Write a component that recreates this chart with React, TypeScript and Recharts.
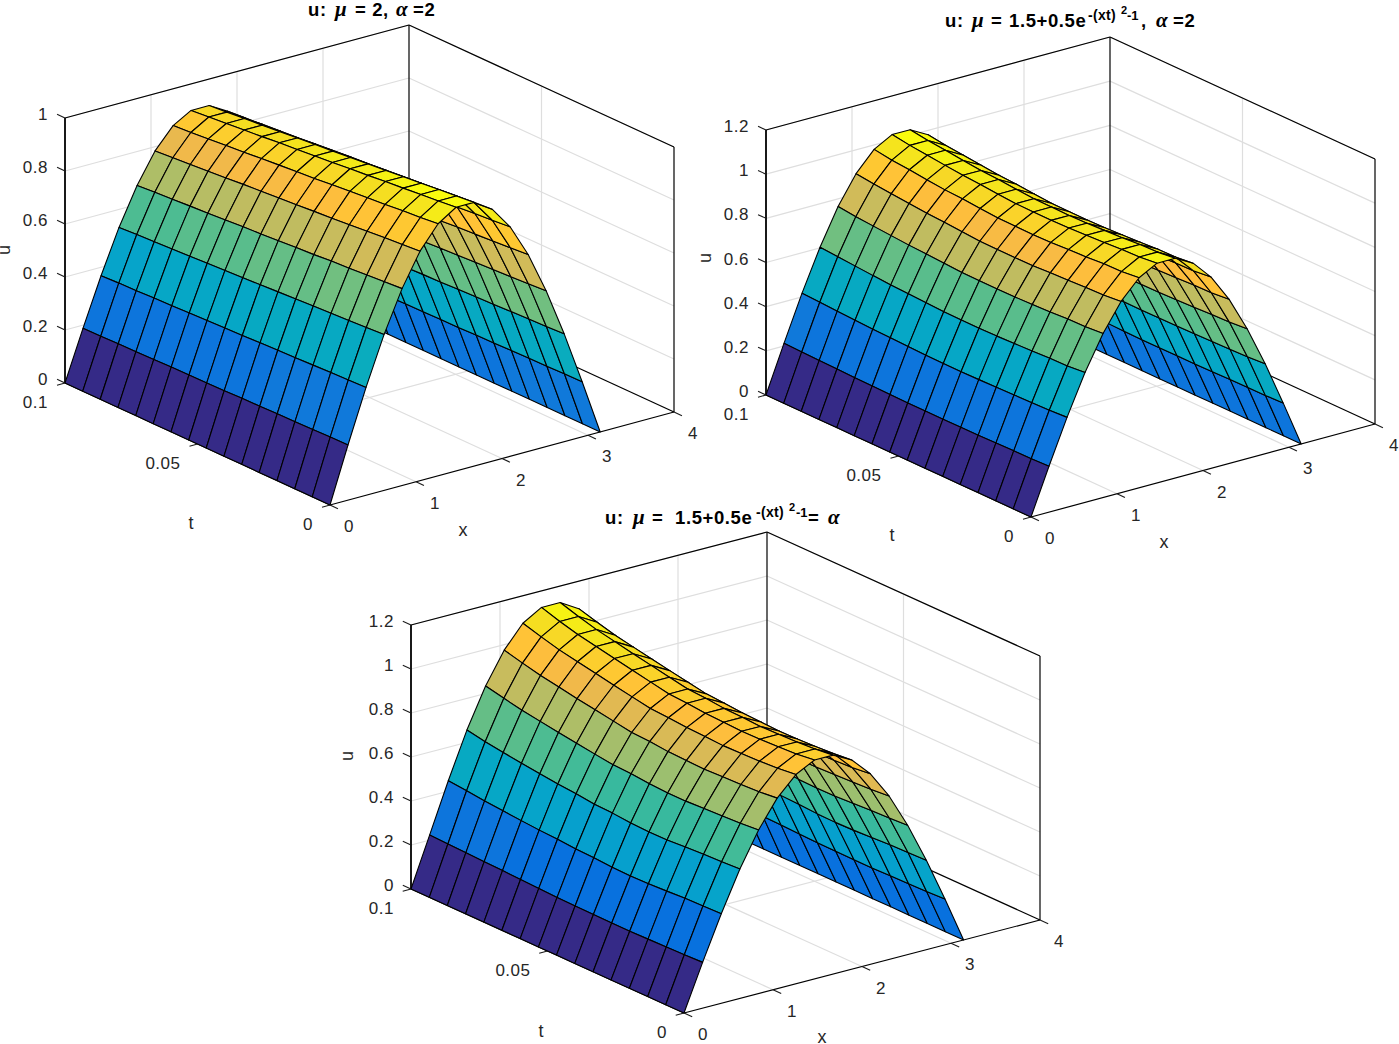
import React from "react";
import { ScatterChart, Scatter, XAxis, YAxis } from "recharts";

const WIDTH = 1399;
const HEIGHT = 1044;

const xValues = [0, 0.209, 0.419, 0.628, 0.838, 1.047, 1.257, 1.466, 1.676, 1.885, 2.094, 2.304, 2.513, 2.723, 2.932, 3.142];
const tValues = [0, 0.0067, 0.0133, 0.02, 0.0267, 0.0333, 0.04, 0.0467, 0.0533, 0.06, 0.0667, 0.0733, 0.08, 0.0867, 0.0933, 0.1];
const xTicks = [0, 1, 2, 3, 4];
const tTicks = [0, 0.05, 0.1];
const zTicksA = [0, 0.2, 0.4, 0.6, 0.8, 1];
const zTicksB = [0, 0.2, 0.4, 0.6, 0.8, 1, 1.2];

// rows run over t, columns over x
const uConstant = [
  [0, 0.208, 0.407, 0.588, 0.743, 0.866, 0.951, 0.995, 0.995, 0.951, 0.866, 0.743, 0.588, 0.407, 0.208, 0],
  [0, 0.207, 0.404, 0.584, 0.738, 0.86, 0.944, 0.988, 0.988, 0.944, 0.86, 0.738, 0.584, 0.404, 0.207, 0],
  [0, 0.205, 0.402, 0.58, 0.733, 0.855, 0.939, 0.982, 0.982, 0.939, 0.855, 0.733, 0.58, 0.402, 0.205, 0],
  [0, 0.204, 0.399, 0.576, 0.728, 0.849, 0.932, 0.975, 0.975, 0.932, 0.849, 0.728, 0.576, 0.399, 0.204, 0],
  [0, 0.203, 0.396, 0.573, 0.724, 0.843, 0.926, 0.969, 0.969, 0.926, 0.843, 0.724, 0.573, 0.396, 0.203, 0],
  [0, 0.201, 0.394, 0.569, 0.718, 0.837, 0.92, 0.962, 0.962, 0.92, 0.837, 0.718, 0.569, 0.394, 0.201, 0],
  [0, 0.2, 0.391, 0.565, 0.714, 0.832, 0.914, 0.956, 0.956, 0.914, 0.832, 0.714, 0.565, 0.391, 0.2, 0],
  [0, 0.198, 0.388, 0.561, 0.709, 0.826, 0.907, 0.949, 0.949, 0.907, 0.826, 0.709, 0.561, 0.388, 0.198, 0],
  [0, 0.197, 0.386, 0.557, 0.704, 0.821, 0.902, 0.943, 0.943, 0.902, 0.821, 0.704, 0.557, 0.386, 0.197, 0],
  [0, 0.196, 0.383, 0.554, 0.7, 0.816, 0.896, 0.937, 0.937, 0.896, 0.816, 0.7, 0.554, 0.383, 0.196, 0],
  [0, 0.195, 0.381, 0.55, 0.695, 0.811, 0.89, 0.931, 0.931, 0.89, 0.811, 0.695, 0.55, 0.381, 0.195, 0],
  [0, 0.193, 0.378, 0.546, 0.69, 0.805, 0.883, 0.924, 0.924, 0.883, 0.805, 0.69, 0.546, 0.378, 0.193, 0],
  [0, 0.192, 0.376, 0.543, 0.686, 0.799, 0.878, 0.918, 0.918, 0.878, 0.799, 0.686, 0.543, 0.376, 0.192, 0],
  [0, 0.191, 0.373, 0.539, 0.681, 0.794, 0.872, 0.912, 0.912, 0.872, 0.794, 0.681, 0.539, 0.373, 0.191, 0],
  [0, 0.189, 0.371, 0.536, 0.677, 0.789, 0.866, 0.906, 0.906, 0.866, 0.789, 0.677, 0.536, 0.371, 0.189, 0],
  [0, 0.188, 0.368, 0.532, 0.672, 0.784, 0.861, 0.9, 0.9, 0.861, 0.784, 0.672, 0.532, 0.368, 0.188, 0],
];

const uVariable = [
  [0, 0.208, 0.407, 0.588, 0.743, 0.866, 0.951, 0.995, 0.995, 0.951, 0.866, 0.743, 0.588, 0.407, 0.208, 0],
  [0, 0.205, 0.402, 0.581, 0.736, 0.858, 0.942, 0.986, 0.986, 0.942, 0.858, 0.736, 0.581, 0.402, 0.205, 0],
  [0, 0.204, 0.4, 0.579, 0.735, 0.856, 0.941, 0.984, 0.984, 0.941, 0.856, 0.735, 0.579, 0.4, 0.204, 0],
  [0, 0.203, 0.398, 0.575, 0.73, 0.851, 0.935, 0.978, 0.978, 0.935, 0.851, 0.73, 0.575, 0.398, 0.203, 0],
  [0, 0.201, 0.396, 0.572, 0.727, 0.848, 0.931, 0.974, 0.974, 0.931, 0.848, 0.727, 0.572, 0.396, 0.201, 0],
  [0, 0.2, 0.394, 0.569, 0.724, 0.844, 0.927, 0.97, 0.97, 0.927, 0.844, 0.724, 0.569, 0.394, 0.2, 0],
  [0, 0.2, 0.393, 0.568, 0.723, 0.843, 0.925, 0.968, 0.968, 0.925, 0.843, 0.723, 0.568, 0.393, 0.2, 0],
  [0, 0.2, 0.393, 0.568, 0.724, 0.843, 0.926, 0.969, 0.969, 0.926, 0.843, 0.724, 0.568, 0.393, 0.2, 0],
  [0, 0.2, 0.394, 0.569, 0.724, 0.844, 0.927, 0.97, 0.97, 0.927, 0.844, 0.724, 0.569, 0.394, 0.2, 0],
  [0, 0.201, 0.396, 0.573, 0.729, 0.85, 0.933, 0.976, 0.976, 0.933, 0.85, 0.729, 0.573, 0.396, 0.201, 0],
  [0, 0.203, 0.399, 0.576, 0.734, 0.856, 0.94, 0.983, 0.983, 0.94, 0.856, 0.734, 0.576, 0.399, 0.203, 0],
  [0, 0.204, 0.401, 0.58, 0.738, 0.86, 0.944, 0.988, 0.988, 0.944, 0.86, 0.738, 0.58, 0.401, 0.204, 0],
  [0, 0.206, 0.405, 0.585, 0.744, 0.867, 0.952, 0.996, 0.996, 0.952, 0.867, 0.744, 0.585, 0.405, 0.206, 0],
  [0, 0.208, 0.409, 0.591, 0.75, 0.875, 0.961, 1.005, 1.005, 0.961, 0.875, 0.75, 0.591, 0.409, 0.208, 0],
  [0, 0.21, 0.413, 0.597, 0.756, 0.882, 0.968, 1.013, 1.013, 0.968, 0.882, 0.756, 0.597, 0.413, 0.21, 0],
  [0, 0.212, 0.417, 0.603, 0.765, 0.892, 0.98, 1.025, 1.025, 0.98, 0.892, 0.765, 0.603, 0.417, 0.212, 0],
];

const uEqual = [
  [0, 0.208, 0.407, 0.588, 0.743, 0.866, 0.951, 0.995, 0.995, 0.951, 0.866, 0.743, 0.588, 0.407, 0.208, 0],
  [0, 0.205, 0.404, 0.583, 0.736, 0.857, 0.942, 0.985, 0.985, 0.942, 0.857, 0.736, 0.583, 0.404, 0.205, 0],
  [0, 0.203, 0.402, 0.58, 0.732, 0.853, 0.937, 0.98, 0.98, 0.937, 0.853, 0.732, 0.58, 0.402, 0.203, 0],
  [0, 0.201, 0.397, 0.575, 0.728, 0.85, 0.934, 0.977, 0.977, 0.934, 0.85, 0.728, 0.575, 0.397, 0.201, 0],
  [0, 0.199, 0.393, 0.57, 0.724, 0.847, 0.932, 0.975, 0.975, 0.932, 0.847, 0.724, 0.57, 0.393, 0.199, 0],
  [0, 0.199, 0.391, 0.569, 0.724, 0.849, 0.936, 0.979, 0.979, 0.936, 0.849, 0.724, 0.569, 0.391, 0.199, 0],
  [0, 0.2, 0.393, 0.572, 0.728, 0.852, 0.939, 0.982, 0.982, 0.939, 0.852, 0.728, 0.572, 0.393, 0.2, 0],
  [0, 0.201, 0.398, 0.579, 0.736, 0.86, 0.946, 0.99, 0.99, 0.946, 0.86, 0.736, 0.579, 0.398, 0.201, 0],
  [0, 0.203, 0.401, 0.582, 0.739, 0.864, 0.951, 0.995, 0.995, 0.951, 0.864, 0.739, 0.582, 0.401, 0.203, 0],
  [0, 0.206, 0.407, 0.592, 0.75, 0.878, 0.966, 1.011, 1.011, 0.966, 0.878, 0.75, 0.592, 0.407, 0.206, 0],
  [0, 0.209, 0.411, 0.599, 0.762, 0.892, 0.981, 1.027, 1.027, 0.981, 0.892, 0.762, 0.599, 0.411, 0.209, 0],
  [0, 0.212, 0.417, 0.608, 0.773, 0.905, 0.997, 1.043, 1.043, 0.997, 0.905, 0.773, 0.608, 0.417, 0.212, 0],
  [0, 0.215, 0.424, 0.618, 0.786, 0.92, 1.013, 1.06, 1.06, 1.013, 0.92, 0.786, 0.618, 0.424, 0.215, 0],
  [0, 0.218, 0.431, 0.629, 0.799, 0.935, 1.029, 1.077, 1.077, 1.029, 0.935, 0.799, 0.629, 0.431, 0.218, 0],
  [0, 0.22, 0.44, 0.641, 0.816, 0.954, 1.051, 1.099, 1.099, 1.051, 0.954, 0.816, 0.641, 0.44, 0.22, 0],
  [0, 0.223, 0.448, 0.656, 0.834, 0.975, 1.075, 1.125, 1.125, 1.075, 0.975, 0.834, 0.656, 0.448, 0.223, 0],
];

// parula, 64 steps
const parula = [
  [0.2081, 0.1663, 0.5292], [0.2116, 0.1898, 0.5777], [0.2123, 0.2138, 0.627], [0.2081, 0.2386, 0.6771],
  [0.1959, 0.2645, 0.7279], [0.1707, 0.2919, 0.7792], [0.1253, 0.3242, 0.8303], [0.0591, 0.3598, 0.8683],
  [0.0117, 0.3875, 0.882], [0.006, 0.4086, 0.8828], [0.0165, 0.4266, 0.8786], [0.0329, 0.443, 0.872],
  [0.0498, 0.4586, 0.8641], [0.0629, 0.4737, 0.8554], [0.0723, 0.4887, 0.8467], [0.0779, 0.504, 0.8384],
  [0.0793, 0.52, 0.8312], [0.0749, 0.5375, 0.8263], [0.0641, 0.557, 0.824], [0.0488, 0.5772, 0.8228],
  [0.0343, 0.5966, 0.8199], [0.0265, 0.6137, 0.8135], [0.0239, 0.6287, 0.8038], [0.0231, 0.6418, 0.7913],
  [0.0228, 0.6535, 0.7768], [0.0267, 0.6642, 0.7607], [0.0384, 0.6743, 0.7436], [0.059, 0.6838, 0.7254],
  [0.0843, 0.6928, 0.7062], [0.1133, 0.7015, 0.6859], [0.1453, 0.7098, 0.6646], [0.1801, 0.7177, 0.6424],
  [0.2178, 0.725, 0.6193], [0.2586, 0.7317, 0.5954], [0.3022, 0.7376, 0.5712], [0.3482, 0.7424, 0.5473],
  [0.3953, 0.7459, 0.5244], [0.442, 0.7481, 0.5033], [0.4871, 0.7491, 0.484], [0.53, 0.7491, 0.4661],
  [0.5709, 0.7485, 0.4494], [0.6099, 0.7473, 0.4337], [0.6473, 0.7456, 0.4188], [0.6834, 0.7435, 0.4044],
  [0.7184, 0.7411, 0.3905], [0.7525, 0.7384, 0.3768], [0.7858, 0.7356, 0.3633], [0.8185, 0.7327, 0.3498],
  [0.8507, 0.7299, 0.336], [0.8824, 0.7274, 0.3217], [0.9139, 0.7258, 0.3063], [0.945, 0.7261, 0.2886],
  [0.9739, 0.7314, 0.2666], [0.9938, 0.7455, 0.2403], [0.999, 0.7653, 0.2164], [0.9955, 0.7861, 0.1967],
  [0.988, 0.8066, 0.1794], [0.9789, 0.8271, 0.1633], [0.9697, 0.8481, 0.1475], [0.9626, 0.8705, 0.1309],
  [0.9589, 0.8949, 0.1132], [0.9598, 0.9218, 0.0948], [0.9661, 0.9514, 0.0755], [0.9763, 0.9831, 0.0538],
];

const SANS = "'Liberation Sans', Arial, sans-serif";
const SERIF = "'Liberation Serif', 'Times New Roman', serif";

// title pieces: text, left edge, kind
const titleA = [["u:", 308, "main"], ["μ", 335, "greek"], ["= 2,", 355, "main"], ["α", 396, "greek"], ["=2", 413, "main"]];
const titleB = [
  ["u:", 945, "main"], ["μ", 972, "greek"], ["=", 991, "main"], ["1.5+0.5e", 1009, "main"], ["-(xt)", 1088, "sup"],
  ["2", 1121, "sup2"], ["-1", 1127, "sup3"], [",", 1141, "main"], ["α", 1156, "greek"], ["=2", 1173, "main"],
];
const titleC = [
  ["u:", 605, "main"], ["μ", 633, "greek"], ["=", 652, "main"], ["1.5+0.5e", 675, "main"], ["-(xt)", 756, "sup"],
  ["2", 789, "sup2"], ["-1", 796, "sup3"], ["=", 808, "main"], ["α", 828, "greek"],
];

const panels = [
  {
    key: "a", u: uConstant, zTicks: zTicksA, zMax: 1,
    view: { ox: 65, oy: 383, xx: 344, xy: -93, tx: 265, ty: 122, zz: 265 },
    labels: { x: [398, 153], t: [126, 146], u: [-55, -133] },
    title: titleA, titleY: 16,
  },
  {
    key: "b", u: uVariable, zTicks: zTicksB, zMax: 1.2,
    view: { ox: 766, oy: 395, xx: 344, xy: -93, tx: 265, ty: 122, zz: 265 },
    labels: { x: [398, 153], t: [126, 146], u: [-55, -137] },
    title: titleB, titleY: 27,
  },
  {
    key: "c", u: uEqual, zTicks: zTicksB, zMax: 1.2,
    view: { ox: 411, oy: 889, xx: 356, xy: -93, tx: 273, ty: 124, zz: 264 },
    labels: { x: [411, 154], t: [130, 148], u: [-58, -133] },
    title: titleC, titleY: 524,
  },
];

type Panel = (typeof panels)[number];
type Pt = { px: number; py: number };

const project = (panel: Panel, x: number, t: number, z: number): Pt => {
  const v = panel.view;
  return {
    px: v.ox + (x / 4) * v.xx + ((0.1 - t) / 0.1) * v.tx,
    py: v.oy + (x / 4) * v.xy + ((0.1 - t) / 0.1) * v.ty - (z / panel.zMax) * v.zz,
  };
};

const faceColor = (value: number, top: number) => {
  const i = Math.min(63, Math.floor((value / top) * 64));
  const [r, g, b] = parula[i];
  return `rgb(${Math.round(r * 255)},${Math.round(g * 255)},${Math.round(b * 255)})`;
};

// far faces first, so nearer ones paint over them
const buildSurface = (panel: Panel) => {
  const top = Math.max(...panel.u.flat());
  const corners: Pt[] = [];
  const colors: string[] = [];
  const at = (i: number, j: number) => project(panel, xValues[i], tValues[j], panel.u[j][i]);
  for (let j = tValues.length - 2; j >= 0; j--) {
    for (let i = xValues.length - 2; i >= 0; i--) {
      corners.push(at(i, j), at(i + 1, j), at(i + 1, j + 1), at(i, j + 1));
      colors.push(faceColor(panel.u[j][i], top));
    }
  }
  return { corners, colors };
};

const buildFrame = (panel: Panel) => {
  const p = (x: number, t: number, z: number) => project(panel, x, t, z);
  const zm = panel.zMax;
  const grid: Pt[] = [];
  panel.zTicks.filter((z) => z > 0).forEach((z) => {
    grid.push(p(0, 0.1, z), p(4, 0.1, z), p(4, 0.1, z), p(4, 0, z));
  });
  xTicks.slice(1, 4).forEach((x) => {
    grid.push(p(x, 0.1, 0), p(x, 0.1, zm), p(x, 0.1, 0), p(x, 0, 0));
  });
  grid.push(p(4, 0.05, 0), p(4, 0.05, zm), p(0, 0.05, 0), p(4, 0.05, 0));

  const box = [
    p(0, 0.1, zm), p(4, 0.1, zm),
    p(4, 0.1, zm), p(4, 0, zm),
    p(4, 0.1, zm), p(4, 0.1, 0),
    p(4, 0, zm), p(4, 0, 0),
    p(4, 0.1, 0), p(4, 0, 0),
    p(0, 0.1, 0), p(0, 0, 0),
    p(0, 0, 0), p(4, 0, 0),
    p(0, 0.1, 0), p(4, 0.1, 0),
  ];
  const zAxis = [p(0, 0.1, 0), p(0, 0.1, zm)];

  const ticks: Pt[] = [];
  panel.zTicks.forEach((z) => ticks.push(p(0, 0.1, z), p(0, 0.103, z)));
  tTicks.forEach((t) => ticks.push(p(0, t, 0), p(-0.093, t, 0)));
  xTicks.forEach((x) => ticks.push(p(x, 0, 0), p(x, -0.003, 0)));

  return { grid, box, zAxis, ticks };
};

const buildTexts = (panel: Panel) => {
  const p = (x: number, t: number, z: number) => project(panel, x, t, z);
  const out: any[] = [];
  panel.zTicks.forEach((z) => out.push({ ...p(0, 0.1, z), text: String(z), dx: -17, dy: 2, anchor: "end", size: 17 }));
  tTicks.forEach((t) => out.push({ ...p(0, t, 0), text: String(t), dx: -17, dy: 25, anchor: "end", size: 17 }));
  xTicks.forEach((x) => out.push({ ...p(x, 0, 0), text: String(x), dx: 19, dy: 27, anchor: "middle", size: 17 }));
  const o = p(0, 0.1, 0);
  out.push({ ...o, text: "x", dx: panel.labels.x[0], dy: panel.labels.x[1], anchor: "middle", size: 18 });
  out.push({ ...o, text: "t", dx: panel.labels.t[0], dy: panel.labels.t[1], anchor: "middle", size: 18 });
  out.push({ ...o, text: "u", dx: panel.labels.u[0], dy: panel.labels.u[1], anchor: "middle", size: 18, rotate: -90 });
  return out;
};

const segments = (stroke: string, width: number) => (props: any) => {
  const pts = props.points;
  const out = [];
  for (let i = 0; i + 1 < pts.length; i += 2) {
    out.push(<line key={i} x1={pts[i].x} y1={pts[i].y} x2={pts[i + 1].x} y2={pts[i + 1].y} stroke={stroke} strokeWidth={width} />);
  }
  return <g>{out}</g>;
};

const mesh = (colors: string[]) => (props: any) => {
  const pts = props.points;
  return (
    <g>
      {colors.map((fill, f) => (
        <polygon
          key={f}
          points={pts.slice(f * 4, f * 4 + 4).map((c: any) => `${c.x},${c.y}`).join(" ")}
          fill={fill}
          stroke="#000"
          strokeWidth={1.1}
          strokeLinejoin="round"
        />
      ))}
    </g>
  );
};

const noMark = () => <g />;

const AxisText = (props: any) => {
  const d = props.payload ?? props;
  const x = props.cx + d.dx;
  const y = props.cy + d.dy;
  return (
    <text
      x={x}
      y={y}
      textAnchor={d.anchor}
      fontFamily={SANS}
      fontSize={d.size}
      letterSpacing={d.size === 17 ? 0.5 : 0}
      fill="#262626"
      transform={d.rotate ? `rotate(${d.rotate} ${x} ${y})` : undefined}
    >
      {d.text}
    </text>
  );
};

const kinds: Record<string, any> = {
  main: { fontSize: 18.5, dy: 0, letterSpacing: 0.6 },
  greek: { fontSize: 21, dy: 0, fontFamily: SERIF, fontStyle: "italic" },
  sup: { fontSize: 14, dy: -7, letterSpacing: 0.3 },
  sup2: { fontSize: 11, dy: -13 },
  sup3: { fontSize: 13, dy: -7 },
};

const TitleText = (props: any) => {
  const d = props.payload ?? props;
  const { dy, ...style } = kinds[d.kind];
  return (
    <text x={props.cx} y={props.cy + dy} fontFamily={SANS} fontWeight={700} fill="#000" {...style}>
      {d.text}
    </text>
  );
};

export default function App() {
  return (
    <div style={{ position: "absolute", left: 0, top: 0, width: WIDTH, height: HEIGHT, background: "#fff" }}>
      <ScatterChart width={WIDTH} height={HEIGHT} margin={{ top: 0, right: 0, bottom: 0, left: 0 }}>
        <XAxis type="number" dataKey="px" domain={[0, WIDTH]} allowDataOverflow hide />
        <YAxis type="number" dataKey="py" domain={[0, HEIGHT]} reversed allowDataOverflow hide />
        {panels.flatMap((panel) => {
          const frame = buildFrame(panel);
          const surface = buildSurface(panel);
          const titleData = panel.title.map(([text, px, kind]) => ({ px, py: panel.titleY, text, kind }));
          return [
            <Scatter key={panel.key + "-grid"} data={frame.grid} line={segments("#dedede", 1.2)} shape={noMark} isAnimationActive={false} />,
            <Scatter key={panel.key + "-box"} data={frame.box} line={segments("#000", 1.2)} shape={noMark} isAnimationActive={false} />,
            <Scatter key={panel.key + "-zaxis"} data={frame.zAxis} line={segments("#000", 1.8)} shape={noMark} isAnimationActive={false} />,
            <Scatter key={panel.key + "-ticks"} data={frame.ticks} line={segments("#1a1a1a", 1.1)} shape={noMark} isAnimationActive={false} />,
            <Scatter key={panel.key + "-surface"} data={surface.corners} line={mesh(surface.colors)} shape={noMark} isAnimationActive={false} />,
            <Scatter key={panel.key + "-text"} data={buildTexts(panel)} shape={AxisText} isAnimationActive={false} />,
            <Scatter key={panel.key + "-title"} data={titleData} shape={TitleText} isAnimationActive={false} />,
          ];
        })}
      </ScatterChart>
    </div>
  );
}
